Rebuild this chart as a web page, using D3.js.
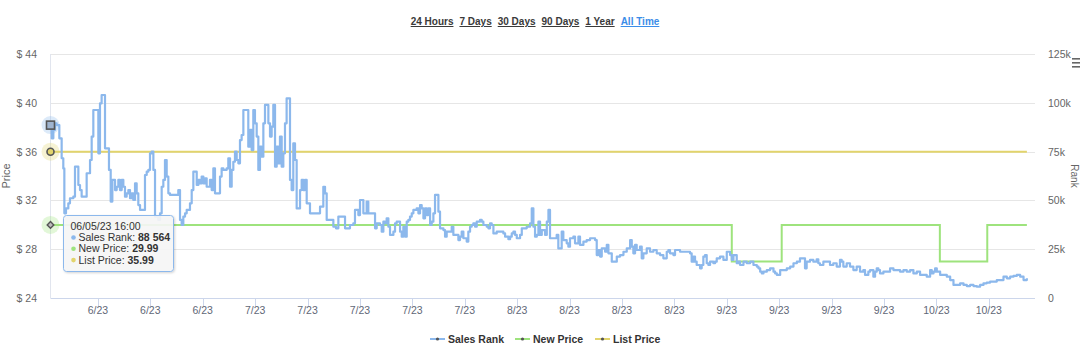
<!DOCTYPE html>
<html><head><meta charset="utf-8">
<script src="https://cdn.jsdelivr.net/npm/d3@7/dist/d3.min.js"></script>
<style>
html,body{margin:0;padding:0;background:#fff;}
svg{display:block;font-family:"Liberation Sans",Arial,sans-serif;}
</style></head><body>
<svg id="c" width="1080" height="355"></svg>
<script>
// ---------------- DATA ----------------
const rangeLinks = ["24 Hours","7 Days","30 Days","90 Days","1 Year","All Time"];
const seriesNames = ["Sales Rank","New Price","List Price"];
const startTime = "2023-06-05T16:00:00";          // first data point
const endTime   = "2023-10-15T04:00:00";          // right edge of the axis
// Sales rank: elapsed days since startTime, and rank value
const rankDays = [0,0.16,0.38,0.60,0.82,1.18,1.49,1.71,1.85,2.07,2.38,2.60,3.05,3.27,3.72,3.94,4.16,4.83,5.28,5.50,5.72,6.39,6.61,6.83,7.28,7.81,8.04,8.26,8.62,8.84,9.06,9.28,9.51,9.73,9.95,10.17,10.40,10.62,10.84,11.06,11.29,11.51,11.73,11.96,12.62,12.85,13.07,13.29,13.51,13.74,13.96,14.40,14.63,14.85,15.07,15.29,15.52,15.74,15.96,17.07,17.30,17.52,17.74,17.97,18.19,18.63,18.86,19.08,19.53,19.75,19.97,20.19,20.42,20.64,20.86,21.30,21.53,21.75,21.97,22.64,22.86,23.09,23.53,23.75,23.98,24.20,24.42,24.64,24.87,25.09,25.31,25.53,25.76,26.42,26.65,26.87,27.09,27.31,27.54,27.76,27.98,28.20,28.43,28.65,29.10,29.32,29.54,29.76,29.99,30.21,30.43,30.65,30.88,31.10,31.32,31.54,31.99,32.21,32.43,32.66,32.88,33.33,33.55,33.77,33.99,34.22,34.66,36.00,36.44,36.67,36.89,
37.78,38.13,38.45,39.34,40.00,40.45,40.67,41.12,41.34,41.79,42.23,42.45,43.35,43.57,44.01,44.24,44.46,44.68,44.90,45.13,45.35,45.80,46.02,46.24,46.69,46.91,47.13,47.36,47.58,47.80,48.02,48.25,48.47,48.91,49.14,49.36,49.58,49.81,50.03,50.25,50.47,50.70,50.92,51.14,51.36,51.81,52.03,52.48,52.70,52.92,53.59,53.81,54.48,54.70,54.92,55.15,55.59,55.81,56.04,56.26,56.48,56.71,56.93,57.37,57.60,57.82,58.27,58.49,58.71,58.93,59.16,59.60,60.49,60.72,61.16,61.39,61.61,61.83,62.05,62.28,62.72,62.95,63.61,64.06,64.28,64.50,64.72,64.95,65.17,65.39,65.62,66.06,66.29,66.51,
66.72,67.61,67.83,68.28,68.50,68.95,69.17,69.39,69.84,70.06,70.51,70.73,71.18,71.62,72.07,72.74,72.96,73.18,73.41,73.63,74.08,74.30,74.52,74.97,75.64,76.08,76.53,76.97,77.42,77.64,77.85,78.08,78.30,78.74,78.97,79.19,79.64,80.08,80.53,80.97,81.42,81.86,82.31,82.53,82.75,83.20,83.42,84.09,85.42,85.64,85.87,86.09,86.31,86.76,86.98,87.20,87.43,87.65,87.87,88.10,88.54,88.77,88.99,89.43,89.88,90.33,90.77,91.00,91.22,91.66,91.89,92.11,92.56,93.00,93.45,93.89,94.34,94.56,94.79,95.01,95.23,95.68,96.12,96.57,96.79,97.02,97.46,98.35,98.80,99.24,99.69,
100.11,100.78,101.00,101.45,101.89,102.34,102.56,102.78,103.23,104.12,104.56,105.01,105.45,105.68,105.90,106.35,106.79,107.24,107.68,108.13,108.57,108.80,109.24,109.47,109.91,110.14,110.36,110.58,110.80,111.25,112.14,112.59,113.48,113.93,114.37,114.82,115.26,115.71,116.15,117.04,117.49,117.71,117.94,118.16,118.38,118.83,119.72,120.17,120.61,121.50,121.95,122.39,122.84,123.28,123.73,124.17,124.62,125.06,125.51,126.40,127.29,127.74,128.18,128.63,129.07,129.52,129.97,130.41];
const rankValues = [88564,81800,86100,89500,88600,81800,71600,66400,43400,45900,48500,51100,51900,67300,57900,55300,51900,63900,70700,82700,96300,74100,99700,104000,76700,65600,49400,60500,55300,57000,60500,55300,60500,57000,51900,53600,55300,51100,53600,50200,58700,53600,47600,45100,63000,64700,65600,74100,75000,65600,41700,40000,43400,57000,60500,70700,62200,53600,52800,55300,40000,37400,41700,43400,45100,48500,55300,64700,57900,60500,58700,62200,58700,61300,57000,60500,55300,66400,53600,62200,66400,65600,66400,71600,57000,65600,69800,75000,70700,69000,80900,83500,96300,77500,86100,75800,96300,89500,82700,65600,77500,72400,89500,98900,89500,82700,87800,98900,67300,77500,69000,82700,67300,74100,89500,102300,60500,55300,79200,70700,45900,55300,60500,55300,60500,48500,43400,46800,57000,53600,40000,
36500,35700,41700,35700,37400,38300,45100,42500,50200,43400,49400,43400,35700,38300,37400,34000,39100,38300,40800,36500,32300,34000,38300,39100,34000,31400,36500,31400,39100,40000,41700,43400,45100,45900,43400,47600,45900,40800,45900,42500,45900,37400,39100,43400,52800,44200,35700,34800,31400,34000,36500,32300,29700,31400,34000,30600,28900,34000,36500,37400,38300,36500,39100,40000,39100,37400,36500,35700,38300,37400,33100,34000,33100,31400,30100,31400,33100,34000,32300,30600,32300,35700,36500,38300,45900,36500,31400,32300,39100,32300,34800,32300,39100,45100,
30600,32300,25400,34000,29700,28000,26300,30600,31400,28000,31400,27200,28900,29700,30600,29700,22000,24600,21200,25400,23700,27200,22900,18600,21200,22000,23700,25400,29700,26300,22900,27200,24600,26300,20300,22900,25400,23700,24600,22900,22000,20300,23700,24600,22900,22000,24600,23700,22900,18600,21200,18600,16900,15200,16900,21200,22000,17800,16900,18600,17800,18600,20300,21200,19500,23700,22000,19500,22000,17800,18600,16900,18600,17800,18600,16900,16100,15200,13500,12600,13500,14300,15200,13500,12600,11800,14300,15200,16100,17800,18600,
20300,15200,18600,19500,18600,19800,17800,16900,18600,16900,17800,16100,19500,18600,16100,17800,16100,14300,16100,13500,14300,11800,13500,14300,10900,13500,15200,14300,12600,13500,15200,14300,13500,14300,13500,14300,12600,13500,11800,10900,14300,12600,13500,15200,13500,11800,10900,9200,6700,7500,6700,6100,6700,6100,5800,6700,7500,7900,8400,9200,10900,10100,10900,11300,11800,10900,9200,10100];
// New price changes (step) and list price
const newPriceDates  = ["2023-06-05T16:00:00","2023-09-04T16:00:00","2023-09-11T08:00:00","2023-10-02T11:00:00","2023-10-08T19:00:00","2023-10-14T02:00:00"];
const newPriceValues = [29.99,26.99,29.99,26.99,29.99,29.99];
const listPriceDates  = ["2023-06-05T16:00:00","2023-10-14T02:00:00"];
const listPriceValues = [35.99,35.99];
const priceTicks = [24,28,32,36,40,44];
const rankTicks  = [0,25000,50000,75000,100000,125000];
const tooltipTitle = "06/05/23 16:00";
const tooltipRows = [["Sales Rank: ","88 564"],["New Price: ","29.99"],["List Price: ","35.99"]];

// ---------------- CHART ----------------
const colors = {rank:"#8cb8ec", newp:"#9ee37d", list:"#e2d46c"};
const svg = d3.select("#c");
const L = 50.5, R = 1035, T = 54, B = 298;
const t0 = new Date(startTime);
const x = d3.scaleTime().domain([t0, new Date(endTime)]).range([L, R]);
const yP = d3.scaleLinear().domain([24,44]).range([B,T]);
const yR = d3.scaleLinear().domain([0,125000]).range([B,T]);
const DAY = 86400000;

// top range links
const links = svg.append("text").attr("x",535).attr("y",25).attr("text-anchor","middle")
  .style("font-size","10px").style("font-weight","bold");
rangeLinks.forEach((s,i)=>{
  links.append("tspan").text(s).attr("fill", i===rangeLinks.length-1?"#3b8de8":"#3a3a3a")
    .style("text-decoration","underline").attr("dx", i? 6:0);
});

// gridlines
svg.append("g").selectAll("line").data(priceTicks.slice(1)).join("line")
  .attr("x1",L).attr("x2",R).attr("y1",d=>Math.round(yP(d))+0.5).attr("y2",d=>Math.round(yP(d))+0.5)
  .attr("stroke","#e6e6e6").attr("stroke-width",1);
svg.append("line").attr("x1",L).attr("x2",L).attr("y1",T).attr("y2",B).attr("stroke","#e1e5ee");
svg.append("line").attr("x1",L).attr("x2",R).attr("y1",B+0.5).attr("y2",B+0.5).attr("stroke","#ccd6eb");

// x ticks: weekly on Mondays
const xticks = d3.timeMonday.every(1).range(new Date("2023-06-06"), new Date(endTime));
const fmt = d3.timeFormat("%-m/%y");
const xg = svg.append("g");
xg.selectAll("line").data(xticks).join("line")
  .attr("x1",d=>Math.round(x(d))+0.5).attr("x2",d=>Math.round(x(d))+0.5)
  .attr("y1",B).attr("y2",B+8).attr("stroke","#ccd6eb");
xg.selectAll("text").data(xticks).join("text")
  .attr("x",d=>x(d)).attr("y",B+16).attr("text-anchor","middle")
  .attr("fill","#5f6877").style("font-size","10.5px").text(fmt);

// y labels
svg.append("g").selectAll("text").data(priceTicks).join("text")
  .attr("x",37).attr("y",d=>yP(d)+4).attr("text-anchor","end")
  .attr("fill","#666").style("font-size","10.5px").text(d=>"$ "+d);
svg.append("g").selectAll("text").data(rankTicks).join("text")
  .attr("x",1048).attr("y",d=>yR(d)+4).attr("text-anchor","start")
  .attr("fill","#666").style("font-size","10.5px").text(d=>d===0?"0":(d/1000)+"k");
svg.append("text").attr("transform","translate(10,176) rotate(-90)").attr("text-anchor","middle")
  .attr("fill","#666").style("font-size","11px").text("Price");
svg.append("text").attr("transform","translate(1071,176) rotate(90)").attr("text-anchor","middle")
  .attr("fill","#666").style("font-size","10px").text("Rank");
// menu icon
svg.append("g").selectAll("rect").data([0,1,2]).join("rect")
  .attr("x",1072).attr("y",d=>58+d*4).attr("width",8).attr("height",1.6).attr("fill","#666");

// series
const rankData = rankDays.map((d,i)=>({t:new Date(t0.getTime()+d*DAY), v:rankValues[i]}));
const np = newPriceDates.map((d,i)=>({t:new Date(d), v:newPriceValues[i]}));
const lp = listPriceDates.map((d,i)=>({t:new Date(d), v:listPriceValues[i]}));
const lineP = d3.line().x(d=>x(d.t)).y(d=>yP(d.v)).curve(d3.curveStepAfter);
const lineR = d3.line().x(d=>x(d.t)).y(d=>yR(d.v)).curve(d3.curveStepAfter);
svg.append("path").datum(lp).attr("d",lineP).attr("fill","none").attr("stroke",colors.list).attr("stroke-width",2);
svg.append("path").datum(np).attr("d",lineP).attr("fill","none").attr("stroke",colors.newp).attr("stroke-width",2);
svg.append("path").datum(rankData).attr("d",lineR).attr("fill","none").attr("stroke",colors.rank).attr("stroke-width",2.2).attr("stroke-linejoin","round");

// hover markers at first point
const hx = x(t0);
svg.append("circle").attr("cx",hx).attr("cy",yR(rankValues[0])).attr("r",9).attr("fill",colors.rank).attr("opacity",0.3);
svg.append("rect").attr("x",hx-4).attr("y",yR(rankValues[0])-4).attr("width",8).attr("height",8)
  .attr("fill","#9fb4cf").attr("stroke","#555").attr("stroke-width",1.6);
svg.append("circle").attr("cx",hx).attr("cy",yP(listPriceValues[0])).attr("r",9).attr("fill",colors.list).attr("opacity",0.3);
svg.append("circle").attr("cx",hx).attr("cy",yP(listPriceValues[0])).attr("r",3.5).attr("fill",colors.list).attr("stroke","#555").attr("stroke-width",1.6);
svg.append("circle").attr("cx",hx).attr("cy",yP(newPriceValues[0])).attr("r",9).attr("fill",colors.newp).attr("opacity",0.3);
svg.append("path").attr("d",d3.symbol(d3.symbolDiamond2,28)()).attr("transform",`translate(${hx},${yP(newPriceValues[0])})`)
  .attr("fill","#bbb").attr("stroke","#555").attr("stroke-width",1.4);

// tooltip
const defs = svg.append("defs");
const f = defs.append("filter").attr("id","sh").attr("x","-10%").attr("y","-10%").attr("width","130%").attr("height","140%");
f.append("feDropShadow").attr("dx",1).attr("dy",1).attr("stdDeviation",1.2).attr("flood-color","#000").attr("flood-opacity",0.18);
const tt = svg.append("g").attr("transform","translate(63.5,215.5)");
tt.append("rect").attr("width",110).attr("height",56).attr("rx",3)
  .attr("fill","rgba(247,247,247,0.9)").attr("stroke","#8cb8ec").attr("filter","url(#sh)");
tt.append("text").attr("x",7).attr("y",14).attr("fill","#333").style("font-size","10.5px").text(tooltipTitle);
const tcol = [colors.rank, colors.newp, colors.list];
tooltipRows.forEach((r,i)=>{
  tt.append("circle").attr("cx",10).attr("cy",22+i*11.3).attr("r",2.3).attr("fill",tcol[i]);
  const tx = tt.append("text").attr("x",15).attr("y",25.5+i*11.3).attr("fill","#333").style("font-size","10.5px");
  tx.append("tspan").text(r[0]);
  tx.append("tspan").style("font-weight","bold").text(r[1]);
});

// legend
const legX = [430, 515, 595];
const lcol = [colors.rank, colors.newp, colors.list];
const lg = svg.append("g");
seriesNames.forEach((s,i)=>{
  lg.append("line").attr("x1",legX[i]).attr("x2",legX[i]+15).attr("y1",339).attr("y2",339).attr("stroke",lcol[i]).attr("stroke-width",2);
  lg.append("circle").attr("cx",legX[i]+7.5).attr("cy",339).attr("r",1.6).attr("fill","#555");
  lg.append("text").attr("x",legX[i]+18).attr("y",343).attr("fill","#333").style("font-size","10.5px").style("font-weight","bold").text(s);
});
</script></body></html>
